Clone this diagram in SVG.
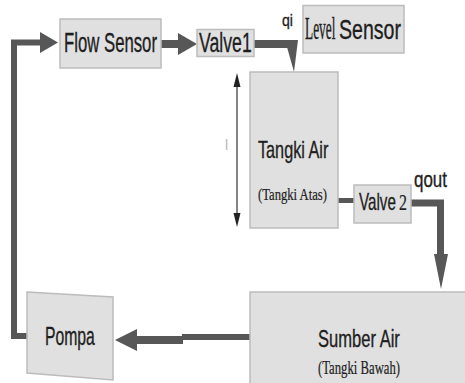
<svg xmlns="http://www.w3.org/2000/svg" width="465" height="383" viewBox="0 0 465 383">
<style>
.box{fill:#e0e0e0;stroke:#bcbcbc;stroke-width:1.5}
.s{font-family:"Liberation Sans",Arial,sans-serif;fill:#1e1e1e;stroke:#1e1e1e;stroke-width:0.35}
.t{font-family:"Liberation Serif","Times New Roman",serif;fill:#1e1e1e;stroke:#1e1e1e;stroke-width:0.2}
.c{fill:none;stroke:#575757;stroke-linejoin:miter}
.h{fill:#575757;stroke:none}
</style>
<rect width="465" height="383" fill="#ffffff"/>
<g id="connectors">
<path class="c" stroke-width="6" d="M27,336 H14 V42.5 H42"/>
<polygon class="h" points="40,32 58,42.5 40,53"/>
<path class="c" stroke-width="8" d="M161,44 H181"/>
<polygon class="h" points="178,33 197,44 178,55"/>
<path class="c" stroke-width="8" d="M254,44 H292"/>
<polygon class="h" points="285,40 298,40 294,72"/>
<path class="c" stroke-width="5" d="M338,200.5 H354"/>
<path class="c" stroke-width="7" d="M411,203 H440.5 V256"/>
<polygon class="h" points="434,254 448,254 441,289"/>
<path class="c" stroke-width="6" d="M250,337 H182"/>
<path class="c" stroke-width="8" d="M183,340 H135"/>
<polygon class="h" points="137,329 115,340 137,351"/>
<path d="M237,84 V216" stroke="#333" stroke-width="1.2" fill="none"/>
<polygon points="237,73 233.5,87 240.5,87" fill="#222"/>
<polygon points="237,227 233.5,213 240.5,213" fill="#222"/>
</g>
<g id="flow-sensor">
<rect class="box" x="60" y="19" width="101" height="49"/>
<text class="s" font-size="27" transform="translate(64,52) scale(0.62,1)">Flow Sensor</text>
</g>
<g id="valve1">
<rect class="box" x="197" y="29.5" width="57" height="27"/>
<text class="s" font-size="28" transform="translate(199,52) scale(0.631,1)">Valve1</text>
</g>
<g id="qi-label">
<text class="s" font-size="17" transform="translate(282,26) scale(0.83,1)">qi</text>
</g>
<g id="level-sensor">
<rect class="box" x="303" y="5.5" width="101" height="47.5"/>
<text class="t" font-size="31" style="stroke-width:0.4" transform="translate(305,39) scale(0.43,1)">Level</text>
<text class="s" font-size="27" transform="translate(339,39) scale(0.725,1)">Sensor</text>
</g>
<g id="tangki-air">
<rect class="box" x="250" y="72" width="88" height="156"/>
<text class="s" font-size="24" transform="translate(258,158) scale(0.676,1)">Tangki Air</text>
<text class="t" font-size="16" transform="translate(258,200) scale(0.79,1)">(Tangki Atas)</text>
</g>
<g id="level-label">
<text x="225" y="150" font-size="14" style="font-family:'Liberation Sans',Arial,sans-serif;fill:#b5b5b5">l</text>
</g>
<g id="valve2">
<rect class="box" x="354" y="185" width="57" height="38"/>
<text class="s" font-size="24" transform="translate(359,210) scale(0.633,1)">Valve</text>
<text class="t" font-size="24" transform="translate(399,210) scale(0.667,1)">2</text>
</g>
<g id="qout-label">
<text class="s" font-size="22" transform="translate(414,187) scale(0.77,1)">qout</text>
</g>
<g id="sumber-air">
<rect class="box" x="250" y="292" width="220" height="100"/>
<text class="s" font-size="24" transform="translate(318,347) scale(0.69,1)">Sumber Air</text>
<text class="t" font-size="18" transform="translate(318,374) scale(0.706,1)">(Tangki Bawah)</text>
</g>
<g id="pompa">
<polygon class="box" points="27,292 113,297 113,380 27,373"/>
<text class="s" font-size="25" transform="translate(45,345) scale(0.63,1)">Pompa</text>
</g>
</svg>
